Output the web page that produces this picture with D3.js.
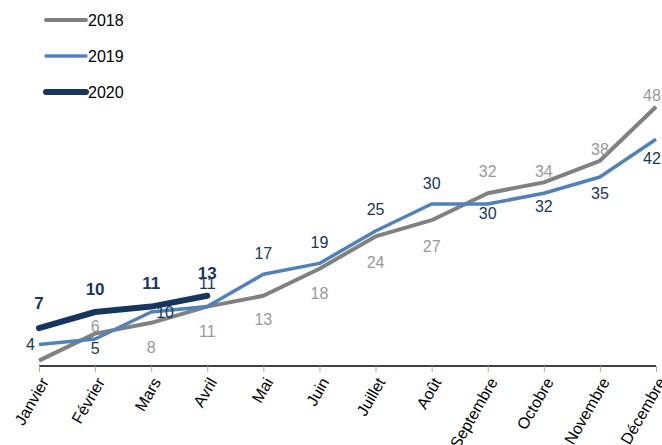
<!DOCTYPE html>
<html>
<head>
<meta charset="utf-8">
<script src="https://cdn.jsdelivr.net/npm/d3@7"></script>
<style>
  body { margin: 0; background: #fff; }
  text { font-family: "Liberation Sans", Arial, sans-serif; }
</style>
</head>
<body>
<div id="chart"></div>
<script>
// data
const MONTHS = ["Janvier", "Février", "Mars", "Avril", "Mai", "Juin", "Juillet",
                "Août", "Septembre", "Octobre", "Novembre", "Décembre"];
const VALUES_2018 = [1, 6, 8, 11, 13, 18, 24, 27, 32, 34, 38, 48];
const VALUES_2019 = [4, 5, 10, 11, 17, 19, 25, 30, 30, 32, 35, 42];
const VALUES_2020 = [7, 10, 11, 13];
const SERIES_NAMES = ["2018", "2019", "2020"];

// label placement (vertical offset of label centre from the point, null = no label)
const DY_2018 = [null, -7, 25, 25, 24, 25, 26, 26, -22, -11, -11, -11];
const DY_2019 = [0, 9, 0, -23, -21, -21, -22, -21, 9, 13, 16, 19];
const DX_2019 = [-4, 0, 5, 0, 0, 0, 0, 0, 0, 0, 0, 0];
const ANCHOR_2019 = ["end", "middle", "start", "middle", "middle", "middle", "middle",
                     "middle", "middle", "middle", "middle", "middle"];
const DY_2020 = [-25, -23, -24, -23];

const FRAME_WIDTH = 662;
const FRAME_HEIGHT = 445;

const FRAME = d3.select("#chart")
  .append("svg")
    .attr("width", FRAME_WIDTH)
    .attr("height", FRAME_HEIGHT);

const X_SCALE = d3.scalePoint()
  .domain(MONTHS)
  .range([39, 656]);

const Y_SCALE = d3.scaleLinear()
  .domain([0, 50])
  .range([366, 96]);

const STYLES = [
  {line: "#808080", label: "#999999", width: 4, weight: "normal", size: 16},
  {line: "#4f81bd", label: "#17375e", width: 3.5, weight: "normal", size: 16},
  {line: "#17365d", label: "#17375e", width: 6, weight: "bold", size: 17}
];

// x-axis
const xAxis = FRAME.append("g")
  .attr("transform", "translate(0," + Y_SCALE(0) + ")")
  .call(d3.axisBottom(X_SCALE).tickSize(6).tickPadding(4).tickSizeOuter(0));
xAxis.select(".domain").attr("stroke", "#000").attr("stroke-width", 1.5)
  .attr("d", "M" + X_SCALE(MONTHS[0]) + ",0H" + X_SCALE(MONTHS[11]));
xAxis.selectAll(".tick line").attr("stroke", "#aaa");
xAxis.selectAll(".tick text")
  .attr("font-size", 16)
  .attr("fill", "#000")
  .attr("text-anchor", "end")
  .attr("dy", "0.35em")
  .attr("transform", "translate(5,13) rotate(-60)")
  .attr("x", 0).attr("y", 0);

const line = d3.line()
  .x((d, i) => X_SCALE(MONTHS[i]))
  .y(d => Y_SCALE(d));

function drawLine(values, st) {
  FRAME.append("path")
    .datum(values)
    .attr("fill", "none")
    .attr("stroke", st.line)
    .attr("stroke-width", st.width)
    .attr("stroke-linejoin", "round")
    .attr("stroke-linecap", st.width > 5 ? "round" : "butt")
    .attr("d", line);
}

function drawLabels(values, st, dys, dxs, anchors) {
  FRAME.append("g").selectAll("text")
    .data(values.map((v, i) => ({v: v, i: i})).filter(d => dys[d.i] !== null))
    .enter().append("text")
      .attr("x", d => Math.min(X_SCALE(MONTHS[d.i]) + (dxs ? dxs[d.i] : 0), FRAME_WIDTH - 10))
      .attr("y", d => Y_SCALE(d.v) + dys[d.i])
      .attr("dy", "0.35em")
      .attr("text-anchor", d => anchors ? anchors[d.i] : "middle")
      .attr("font-size", st.size)
      .attr("font-weight", st.weight)
      .attr("fill", st.label)
      .text(d => d.v);
}

drawLine(VALUES_2018, STYLES[0]);
drawLine(VALUES_2019, STYLES[1]);
drawLabels(VALUES_2018, STYLES[0], DY_2018);
drawLabels(VALUES_2019, STYLES[1], DY_2019, DX_2019, ANCHOR_2019);
drawLine(VALUES_2020, STYLES[2]);
drawLabels(VALUES_2020, STYLES[2], DY_2020);

// legend
const legend = FRAME.append("g")
  .selectAll("g")
  .data(SERIES_NAMES)
  .enter().append("g")
    .attr("transform", (d, i) => "translate(0," + (20 + i * 36) + ")");
legend.append("line")
  .attr("x1", 46).attr("x2", 86)
  .attr("stroke", (d, i) => STYLES[i].line)
  .attr("stroke-width", (d, i) => STYLES[i].width)
  .attr("stroke-linecap", "round");
legend.append("text")
  .attr("x", 88)
  .attr("dy", "0.35em")
  .attr("font-size", 16)
  .attr("fill", "#000")
  .text(d => d);
</script>
</body>
</html>
